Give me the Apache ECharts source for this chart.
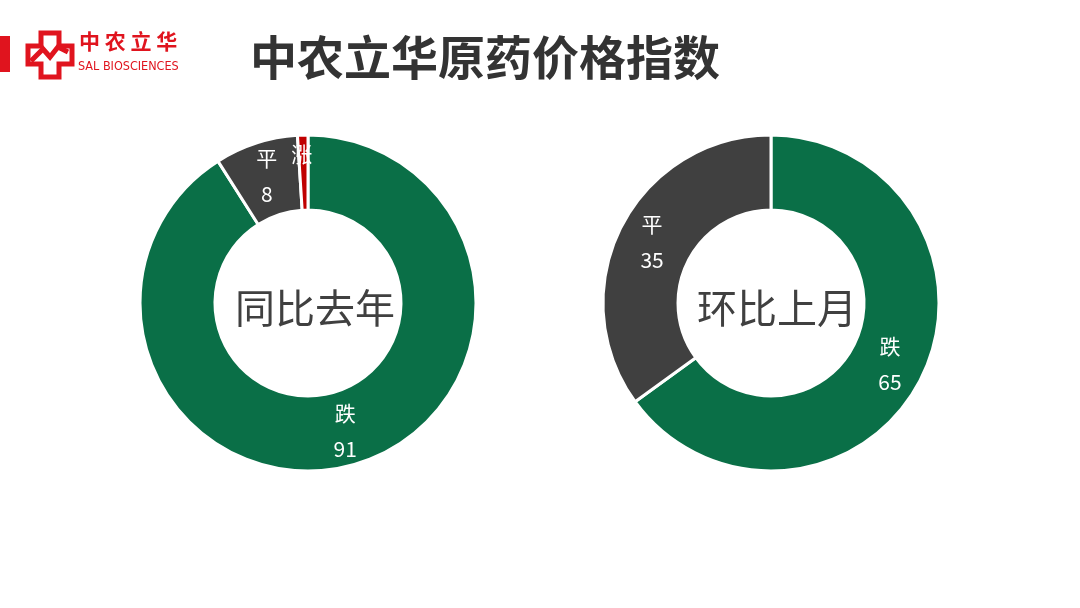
<!DOCTYPE html>
<html>
<head>
<meta charset="utf-8">
<script src="https://cdn.jsdelivr.net/npm/echarts@6/dist/echarts.min.js"></script>
<style>
html,body{margin:0;padding:0;background:#fff;}
#main{width:1080px;height:608px;}
</style>
</head>
<body>
<div id="main"></div>
<script>
// Data
const leftNames = ['跌', '平', '涨'];
const leftValues = [91, 8, 1];
const rightNames = ['跌', '平'];
const rightValues = [65, 35];
const titleText = '中农立华原药价格指数';
const leftCenterText = '同比去年';
const rightCenterText = '环比上月';
const colors = { '跌': '#0a6f47', '平': '#404040', '涨': '#c00000' };

const chart = echarts.init(document.getElementById('main'));

function buildData(names, values) {
  return names.map((n, i) => {
    const d = { name: n, value: values[i], itemStyle: { color: colors[n] } };
    if (n === '涨') {
      d.label = { formatter: '{b}', offset: [-2, -16] };
    }
    return d;
  });
}

const pieBase = {
  type: 'pie',
  radius: [93, 168],
  startAngle: 90,
  clockwise: true,
  avoidLabelOverlap: false,
  silent: true,
  itemStyle: { borderColor: '#ffffff', borderWidth: 3 },
  label: {
    show: true,
    position: 'inside',
    formatter: '{b}\n{c}',
    color: '#ffffff',
    fontSize: 21,
    lineHeight: 36,
    fontFamily: 'Noto Sans CJK SC'
  },
  labelLine: { show: false },
  emphasis: { disabled: true },
  animation: false
};

const red = '#e0141e';

chart.setOption({
  backgroundColor: '#ffffff',
  animation: false,
  title: [
    { text: titleText, left: 245, top: 29,
      textStyle: { fontSize: 47, fontWeight: 'bold', color: '#333333', fontFamily: 'Noto Sans CJK SC' } },
    { text: leftCenterText, left: 310, top: 303, textAlign: 'center', textVerticalAlign: 'middle',
      textStyle: { fontSize: 40, fontWeight: 'normal', color: '#404040', fontFamily: 'Noto Sans CJK SC' } },
    { text: rightCenterText, left: 772, top: 303, textAlign: 'center', textVerticalAlign: 'middle',
      textStyle: { fontSize: 40, fontWeight: 'normal', color: '#404040', fontFamily: 'Noto Sans CJK SC' } }
  ],
  series: [
    Object.assign({}, pieBase, { center: [308, 303], data: buildData(leftNames, leftValues) }),
    Object.assign({}, pieBase, { center: [771, 303], data: buildData(rightNames, rightValues) })
  ],
  graphic: [
    { type: 'rect', shape: { x: 0, y: 36, width: 10, height: 36 }, style: { fill: red } },
    // logo cross outline
    { type: 'polygon', shape: { points: [[41,33],[59,33],[59,46],[72,46],[72,64],[59,64],[59,77],[41,77],[41,64],[28,64],[28,46],[41,46]] },
      style: { fill: 'none', stroke: red, lineWidth: 5, lineJoin: 'miter' } },
    { type: 'polyline', shape: { points: [[31,61],[43,49],[50,57],[58,47],[68,52]] },
      style: { fill: 'none', stroke: red, lineWidth: 5 } },
    { type: 'text', left: 79, top: 31,
      style: { text: '中 农 立 华', fill: red, font: 'bold 21px "Noto Sans CJK SC"' } },
    { type: 'text', left: 78, top: 60,
      style: { text: 'SAL BIOSCIENCES', fill: red, font: '12.5px "Liberation Sans Narrow", "DejaVu Sans Condensed", sans-serif' } }
  ]
});
</script>
</body>
</html>
